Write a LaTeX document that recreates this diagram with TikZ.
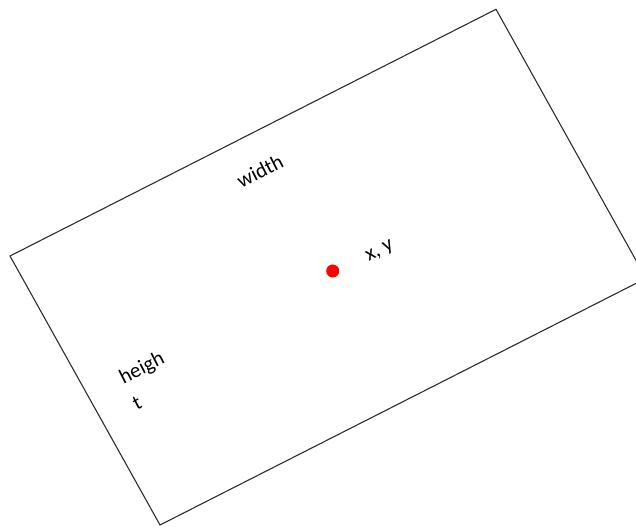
\documentclass[tikz,border=0pt]{standalone}
\usepackage{fontspec}
\setmainfont{Carlito}
\usetikzlibrary{positioning}
\definecolor{FrameGray}{RGB}{45,45,45}
\definecolor{DotRed}{RGB}{255,0,0}

\begin{document}
\begin{tikzpicture}[
    x=1pt,y=1pt,
    frame/.style={draw=FrameGray,line width=1.1pt,line join=miter},
    lbl/.style={rotate=27,font=\fontsize{21}{29}\selectfont,align=left,inner sep=0pt},
    dot/.style={circle,fill=DotRed,minimum size=13,inner sep=0pt}
  ]
    \useasboundingbox (0,0) rectangle (636,529);
    \clip (0,0) rectangle (636,529);
    % corners of the tilted box
    \coordinate (tl) at (10,273);
    \coordinate (tr) at (496,519.7);
    \coordinate (br) at (646,250.7);
    \coordinate (bl) at (160,4);
    \draw[frame] (tl) -- (tr) -- (br) -- (bl) -- cycle;
    \node[dot] (xy) at (332.7,258) {};
    \node[lbl] (w) at (260,358) {width};
    \node[lbl] (pos) at (380,277) {x, y};
    \node[lbl] (h) at (148,149) {heigh\\t};
  \end{tikzpicture}
\end{document}
